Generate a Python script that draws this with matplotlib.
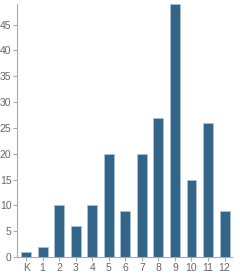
import matplotlib
matplotlib.use("Agg")
import matplotlib.pyplot as plt

plt.rcParams['font.family'] = ['Liberation Sans', 'DejaVu Sans']

categories = ["K", "1", "2", "3", "4", "5", "6", "7", "8", "9", "10", "11", "12"]
values = [1, 2, 10, 6, 10, 20, 9, 20, 27, 49, 15, 26, 9]
yticks = [0, 5, 10, 15, 20, 25, 30, 35, 40, 45]

fig = plt.figure(figsize=(2.40, 2.77), dpi=100)
ax = fig.add_axes([17/240, 20/277, (232-17)/240, (257-4)/277])
x = list(range(len(categories)))
ax.bar(x, values, width=0.6, color="#336588", edgecolor="#a9c3d6", linewidth=0.6)
ax.set_xlim(-0.55, 12.45)
ax.set_ylim(0, 49)
ax.set_xticks(x)
ax.set_xticklabels(categories)
ax.set_yticks(yticks)
for s in ["top", "right"]:
    ax.spines[s].set_visible(False)
for s in ["left", "bottom"]:
    ax.spines[s].set_color("#aaaaaa")
    ax.spines[s].set_linewidth(0.8)
ax.tick_params(axis="both", colors="#aaaaaa", length=3, width=0.8, labelsize=7.5, labelcolor="#666666", pad=1)
fig.savefig("out.png", dpi=100)
